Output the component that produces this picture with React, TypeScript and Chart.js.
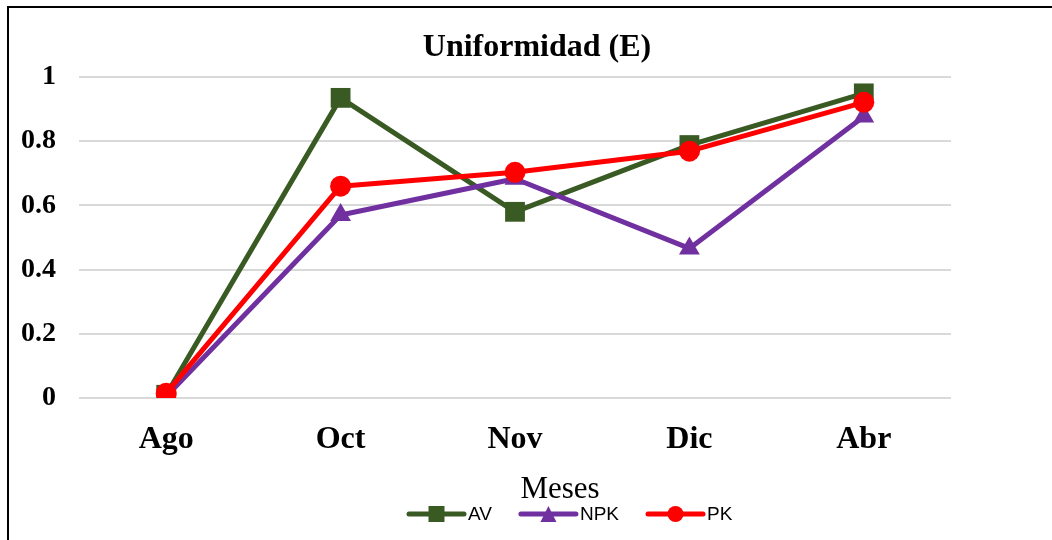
import React, { useEffect, useRef } from "react";
import { Chart, registerables } from "chart.js";

Chart.register(...registerables);

const categories = ["Ago", "Oct", "Nov", "Dic", "Abr"];
const avValues = [0.01, 0.935, 0.58, 0.788, 0.949];
const npkValues = [0.005, 0.57, 0.683, 0.466, 0.877];
const pkValues = [0.015, 0.66, 0.703, 0.769, 0.921];
const yTickValues = [0, 0.2, 0.4, 0.6, 0.8, 1];
const chartTitle = "Uniformidad (E)";
const xAxisTitle = "Meses";
const seriesLabels = ["AV", "NPK", "PK"];
const seriesColors = ["#3a5a24", "#7030a0", "#ff0000"];
const seriesMarkers = ["rect", "triangle", "circle"];

const drawMarker = (ctx: CanvasRenderingContext2D, style: string, x: number, y: number, size: number, color: string) => {
  ctx.fillStyle = color;
  ctx.beginPath();
  if (style === "rect") {
    ctx.rect(x - size / 2, y - size / 2, size, size);
  } else if (style === "triangle") {
    ctx.moveTo(x, y - size / 2);
    ctx.lineTo(x + size / 2, y + size / 2);
    ctx.lineTo(x - size / 2, y + size / 2);
    ctx.closePath();
  } else {
    ctx.arc(x, y, size / 2, 0, Math.PI * 2);
  }
  ctx.fill();
};

const decorPlugin = {
  id: "decor",
  afterDraw(chart: any) {
    const ctx: CanvasRenderingContext2D = chart.ctx;
    const W = chart.width;
    const H = chart.height;
    ctx.save();
    // outer frame
    ctx.fillStyle = "#000";
    ctx.fillRect(7, 6, W - 7, 2);
    ctx.fillRect(7, 6, 2, H - 6);

    // title
    ctx.fillStyle = "#000";
    ctx.textAlign = "center";
    ctx.textBaseline = "alphabetic";
    ctx.font = "bold 32px 'Liberation Serif'";
    ctx.fillText(chartTitle, 537, 56);

    // x axis title
    ctx.font = "31px 'Liberation Serif'";
    ctx.fillText(xAxisTitle, 560, 498);

    // legend
    ctx.font = "19px 'Liberation Sans'";
    ctx.textAlign = "left";
    ctx.textBaseline = "middle";
    let x = 409;
    const y = 514;
    const lineLen = 55;
    seriesLabels.forEach((lab, i) => {
      ctx.strokeStyle = seriesColors[i];
      ctx.lineWidth = 5;
      ctx.lineCap = "round";
      ctx.beginPath();
      ctx.moveTo(x, y);
      ctx.lineTo(x + lineLen, y);
      ctx.stroke();
      drawMarker(ctx, seriesMarkers[i], x + lineLen / 2, y, 16, seriesColors[i]);
      ctx.fillStyle = "#000";
      const tx = x + lineLen + 4;
      ctx.fillText(lab, tx, y + 1);
      x = tx + ctx.measureText(lab).width + 29;
    });
    ctx.restore();
  },
};

export default function App() {
  const ref = useRef<HTMLCanvasElement | null>(null);

  useEffect(() => {
    if (!ref.current) return;
    const valueSets = [avValues, npkValues, pkValues];
    const radii = [14, 12, 10.5];
    const chart = new Chart(ref.current, {
      type: "line",
      data: {
        labels: categories,
        datasets: seriesLabels.map((lab, i) => ({
          label: lab,
          data: valueSets[i],
          borderColor: seriesColors[i],
          backgroundColor: seriesColors[i],
          borderWidth: 5,
          borderJoinStyle: "round",
          borderCapStyle: "round",
          pointStyle: seriesMarkers[i],
          pointRadius: radii[i],
          pointBorderWidth: 0,
          pointBackgroundColor: seriesColors[i],
          pointBorderColor: seriesColors[i],
          tension: 0,
          order: 3 - i,
        })),
      },
      options: {
        animation: false,
        responsive: false,
        devicePixelRatio: 1,
        layout: { padding: { top: 77, right: 101, bottom: 0, left: 0 } },
        plugins: {
          legend: { display: false },
          title: { display: false },
          tooltip: { enabled: false },
        },
        scales: {
          x: {
            type: "category",
            offset: true,
            grid: { display: false, drawTicks: false },
            border: { display: false },
            ticks: {
              color: "#000",
              padding: 23,
              font: { family: "'Liberation Serif'", size: 32, weight: "bold" },
            },
            afterFit: (s: any) => {
              s.height = 142;
            },
          },
          y: {
            min: 0,
            max: 1,
            afterBuildTicks: (s: any) => {
              s.ticks = yTickValues.map((v) => ({ value: v }));
            },
            grid: { color: "#d9d9d9", lineWidth: 2, drawTicks: false },
            border: { display: false },
            ticks: {
              color: "#000",
              padding: 23,
              font: { family: "'Liberation Serif'", size: 28, weight: "bold" },
              callback: (v: any) => String(Math.round(v * 10) / 10),
            },
            afterFit: (s: any) => {
              s.width = 79;
            },
          },
        },
      },
      plugins: [decorPlugin],
    });
    return () => chart.destroy();
  }, []);

  return (
    <canvas
      ref={ref}
      width={1052}
      height={540}
      style={{ position: "absolute", left: 0, top: 0, width: 1052, height: 540, display: "block", background: "#fff" }}
    />
  );
}
